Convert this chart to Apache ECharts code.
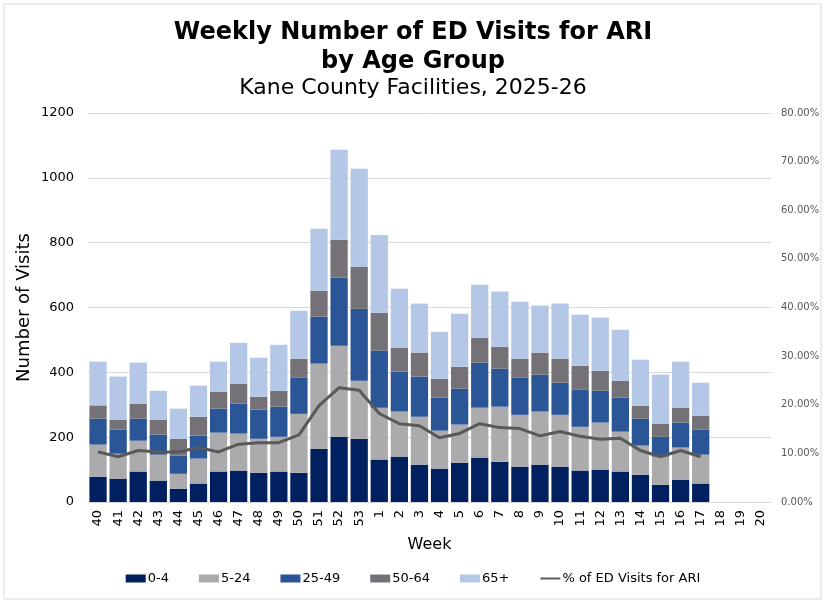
<!DOCTYPE html>
<html>
<head>
<meta charset="utf-8">
<script src="https://cdn.jsdelivr.net/npm/echarts@6/dist/echarts.min.js"></script>
<style>
  html, body { margin: 0; padding: 0; background: #fff; }
  #main { width: 826px; height: 604px; }
</style>
</head>
<body>
<div id="main"></div>
<script>
// weeks of the 2025-26 season
var weeks = ['40','41','42','43','44','45','46','47','48','49','50','51','52','53',
             '1','2','3','4','5','6','7','8','9','10','11','12','13','14','15','16','17','18','19','20'];

// visits per age group
var age0_4   = [78, 72, 94, 66, 41, 57, 94, 97, 90, 94, 90, 164, 201, 195, 131, 140, 115, 103, 121, 137, 124, 109, 115, 109, 97, 100, 94, 84, 53, 69, 57];
var age5_24  = [99, 77, 95, 80, 46, 77, 120, 114, 105, 107, 182, 263, 281, 179, 160, 139, 148, 117, 118, 154, 170, 160, 164, 160, 135, 145, 123, 90, 87, 99, 89];
var age25_49 = [80, 74, 68, 62, 56, 71, 74, 92, 90, 93, 111, 145, 210, 222, 176, 123, 124, 102, 111, 139, 117, 114, 114, 99, 114, 98, 105, 83, 61, 77, 77];
var age50_64 = [41, 31, 46, 46, 52, 58, 52, 62, 40, 49, 59, 80, 117, 130, 117, 74, 74, 58, 67, 77, 68, 59, 68, 74, 74, 62, 52, 40, 41, 46, 43];
var age65    = [135, 133, 127, 89, 93, 96, 93, 126, 120, 142, 148, 191, 278, 302, 240, 182, 151, 145, 164, 163, 170, 176, 145, 170, 158, 164, 157, 142, 151, 142, 102];

// % of ED visits for ARI
var pctAri = [10.3, 9.3, 10.6, 10.3, 10.3, 11.2, 10.3, 11.9, 12.2, 12.2, 13.8, 19.8, 23.5, 23.0,
              18.2, 16.1, 15.7, 13.2, 14.1, 16.1, 15.3, 15.1, 13.6, 14.5, 13.5, 12.9, 13.1, 10.6, 9.3, 10.6, 9.3];

var font = 'DejaVu Sans';
var myChart = echarts.init(document.getElementById('main'));

function barSeries(name, data, color) {
    return {
        name: name,
        type: 'bar',
        stack: 'visits',
        barCategoryGap: '14%',
        itemStyle: { color: color },
        data: data
    };
}

var option = {
    animation: false,
    textStyle: { fontFamily: font },
    graphic: [{
        type: 'rect',
        shape: { x: 4, y: 4, width: 817, height: 595 },
        style: { fill: 'none', stroke: '#d9d9d9', lineWidth: 1 },
        silent: true
    }],
    title: [{
        text: 'Weekly Number of ED Visits for ARI\nby Age Group',
        left: 'center',
        top: 13,
        textStyle: { fontFamily: font, fontSize: 24, fontWeight: 'bold', color: '#000', lineHeight: 29 }
    }, {
        text: 'Kane County Facilities, 2025-26',
        left: 'center',
        top: 72,
        textStyle: { fontFamily: font, fontSize: 22, fontWeight: 'normal', color: '#000' }
    }],
    legend: {
        bottom: 14,
        left: 'center',
        itemWidth: 20,
        itemHeight: 8,
        itemGap: 30,
        textStyle: { fontFamily: font, fontSize: 13, color: '#000', padding: [0, 0, 0, -3] },
        data: [
            { name: '0-4', icon: 'rect' },
            { name: '5-24', icon: 'rect' },
            { name: '25-49', icon: 'rect' },
            { name: '50-64', icon: 'rect' },
            { name: '65+', icon: 'rect' },
            { name: '% of ED Visits for ARI', itemStyle: { opacity: 0 } }
        ]
    },
    grid: { left: 88, right: 55, top: 113, bottom: 102 },
    xAxis: {
        type: 'category',
        data: weeks,
        name: 'Week',
        nameLocation: 'middle',
        nameGap: 35,
        nameTextStyle: { fontFamily: font, fontSize: 16, color: '#000' },
        axisLine: { lineStyle: { color: '#d9d9d9' } },
        axisTick: { show: false },
        axisLabel: { rotate: 90, interval: 0, fontSize: 13, color: '#000', margin: 8 }
    },
    yAxis: [{
        type: 'value',
        min: 0,
        max: 1200,
        interval: 200,
        name: 'Number of Visits',
        nameLocation: 'middle',
        nameMoveOverlap: false,
        nameGap: 55,
        nameTextStyle: { fontFamily: font, fontSize: 18, color: '#000' },
        axisLine: { show: false },
        axisTick: { show: false },
        axisLabel: {
            fontSize: 13,
            color: '#000',
            margin: 14,
            formatter: function (v) { return String(v); }
        },
        splitLine: { lineStyle: { color: '#d9d9d9' } }
    }, {
        type: 'value',
        min: 0,
        max: 80,
        interval: 10,
        position: 'right',
        axisLine: { show: false },
        axisTick: { show: false },
        axisLabel: {
            fontSize: 10,
            color: '#595959',
            margin: 10,
            formatter: function (v) { return v.toFixed(2) + '%'; }
        },
        splitLine: { show: false }
    }],
    series: [
        barSeries('0-4', age0_4, '#002060'),
        barSeries('5-24', age5_24, '#abaaad'),
        barSeries('25-49', age25_49, '#2a5597'),
        barSeries('50-64', age50_64, '#747277'),
        barSeries('65+', age65, '#b4c7e7'),
        {
            name: '% of ED Visits for ARI',
            type: 'line',
            yAxisIndex: 1,
            symbol: 'none',
            lineStyle: { color: '#595959', width: 3 },
            itemStyle: { color: '#595959' },
            data: pctAri
        }
    ]
};
myChart.setOption(option);
</script>
</body>
</html>
